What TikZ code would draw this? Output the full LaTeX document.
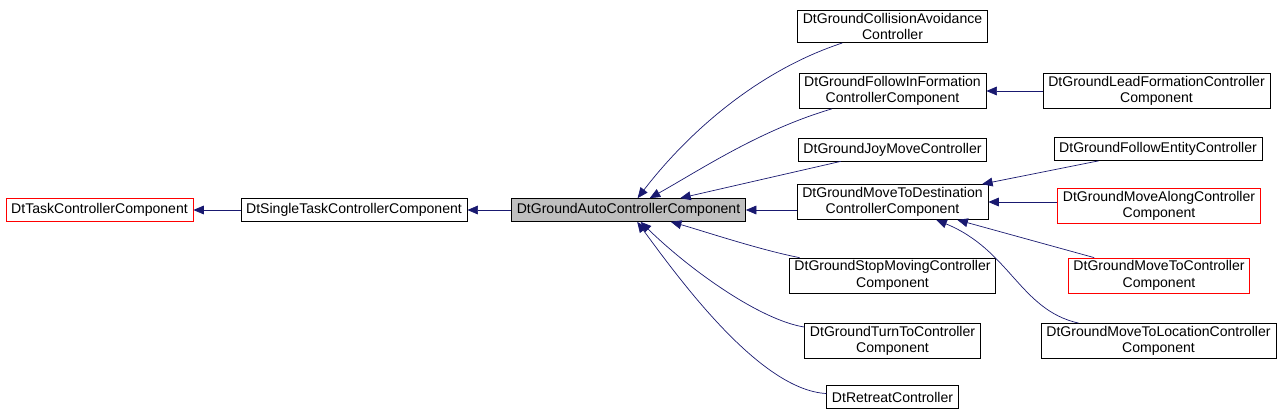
\documentclass[tikz,border=0pt]{standalone}
\usepackage{fontspec}
\setmainfont{Liberation Sans}
\usetikzlibrary{arrows.meta}
\definecolor{edgeblue}{RGB}{25,25,112}
\tikzset{
    cls/.style={draw=black, fill=white, align=center, inner xsep=3pt, inner ysep=1.5pt,
        font=\fontsize{8}{9.5}\selectfont, minimum height=0.46cm},
    red cls/.style={cls, draw=red},
    edge/.style={draw=edgeblue, -{Triangle[length=6pt,width=5pt]}}
}
\begin{document}
\begin{tikzpicture}[x=0.02cm, y=-0.02cm]
\useasboundingbox (0,0) rectangle (1280,417);

\node[red cls] (task) at (99.5,210) {DtTaskControllerComponent};
\node[cls] (single) at (354,210) {DtSingleTaskControllerComponent};
\node[cls, fill=black!25] (auto) at (628.5,210) {DtGroundAutoControllerComponent};

\node[cls] (coll) at (892.5,26.5) {DtGroundCollisionAvoidance\\Controller};
\node[cls] (fol) at (892.5,91) {DtGroundFollowInFormation\\ControllerComponent};
\node[cls] (joy) at (892.5,149.5) {DtGroundJoyMoveController};
\node[cls] (dest) at (892.5,202) {DtGroundMoveToDestination\\ControllerComponent};
\node[cls] (stop) at (892.5,275.5) {DtGroundStopMovingController\\Component};
\node[cls] (turn) at (892.5,341) {DtGroundTurnToController\\Component};
\node[cls] (ret) at (892.5,397) {DtRetreatController};

\node[cls] (lead) at (1156.5,91) {DtGroundLeadFormationController\\Component};
\node[cls] (fent) at (1158,149) {DtGroundFollowEntityController};
\node[red cls] (along) at (1159,206) {DtGroundMoveAlongController\\Component};
\node[red cls] (moveto) at (1159,275.5) {DtGroundMoveToController\\Component};
\node[cls] (loc) at (1158.5,341) {DtGroundMoveToLocationController\\Component};

% inheritance edges
\draw[edge] (single) -- (task);
\draw[edge] (auto) -- (single);
\draw[edge] (coll) .. controls (760,70) and (690,130) .. (auto);
\draw[edge] (fol) .. controls (760,130) and (700,170) .. (auto);
\draw[edge] (joy) -- (auto);
\draw[edge] (dest.west |- auto) -- (auto);
\draw[edge] (stop) .. controls (760,250) and (700,230) .. (auto);
\draw[edge] (turn) .. controls (760,320) and (690,270) .. (auto);
\draw[edge] (ret) .. controls (760,390) and (680,280) .. (auto);
\draw[edge] (lead) -- (fol);
\draw[edge] (fent) -- (dest);
\draw[edge] (along.west |- dest) -- (dest);
\draw[edge] (moveto) -- (dest);
\draw[edge] (loc) .. controls (1020,310) and (1010,250) .. (dest);
\end{tikzpicture}
\end{document}
